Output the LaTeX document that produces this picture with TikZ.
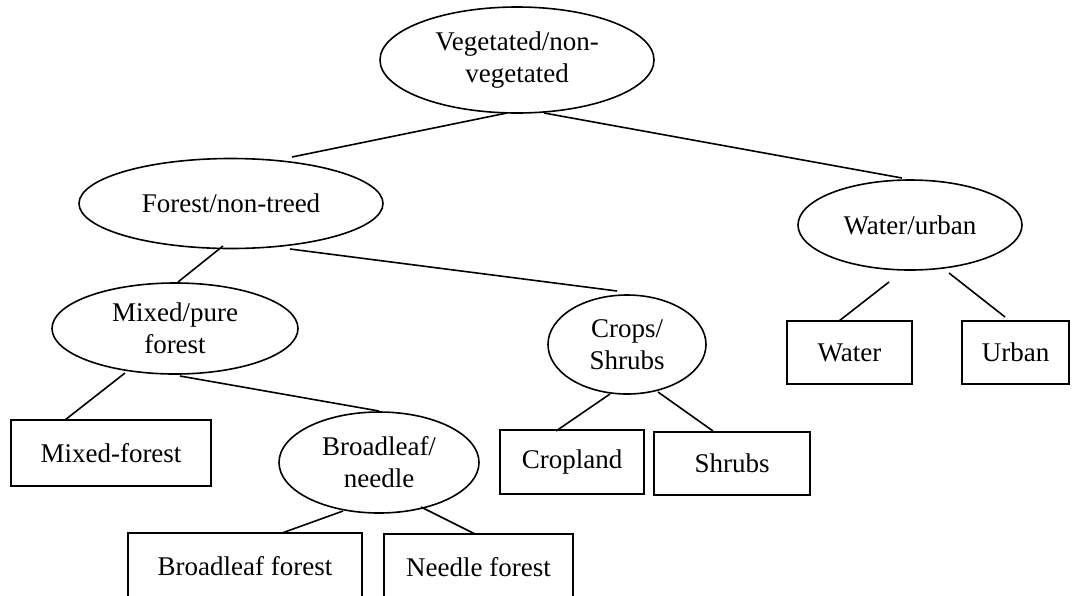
\documentclass[tikz,border=0pt]{standalone}
\usepackage{fontspec}
\setmainfont{Liberation Serif}
\usetikzlibrary{shapes.geometric,calc}
\begin{document}
\begin{tikzpicture}[x=1pt,y=-1pt,
  every node/.style={font=\fontsize{27}{32}\selectfont, align=center, inner sep=0pt, line width=1.6pt},
  oval/.style={draw, ellipse},
  leaf/.style={draw, rectangle},
  link/.style={draw, line width=1.6pt}]
\clip (0,0) rectangle (1078,595);
\useasboundingbox (0,0) rectangle (1078,595);
% ellipses
\node[oval, minimum width=274pt, minimum height=106pt] (veg) at (517,60) {Vegetated/non-\\vegetated};
\node[oval, minimum width=304pt, minimum height=90pt] (forest) at (231,203.5) {Forest/non-treed};
\node[oval, minimum width=224pt, minimum height=90pt] (water) at (910,225) {Water/urban};
\node[oval, minimum width=246pt, minimum height=91pt] (mixed) at (175,328.5) {Mixed/pure\\forest};
\node[oval, minimum width=158pt, minimum height=99pt] (crops) at (627,344.5) {Crops/\\Shrubs};
\node[oval, minimum width=200pt, minimum height=101pt] (bn) at (379,462.5) {Broadleaf/\\needle};
% boxes
\node[leaf, minimum width=200pt, minimum height=66pt] (mf) at (111,453) {Mixed-forest};
\node[leaf, minimum width=234pt, minimum height=66pt] (bf) at (245,566) {Broadleaf forest};
\node[leaf, minimum width=189pt, minimum height=66pt] (nf) at (478.5,567) {Needle forest};
\node[leaf, minimum width=144pt, minimum height=64pt] (crop) at (572,462) {Cropland};
\node[leaf, minimum width=156pt, minimum height=63pt] (shrub) at (732,463.5) {Shrubs};
\node[leaf, minimum width=125pt, minimum height=63pt] (wbox) at (849.5,352.5) {Water};
\node[leaf, minimum width=107pt, minimum height=63pt] (urban) at (1015.5,352.5) {Urban};
% connectors
\draw[link] ($(veg.center)+(-10,53)$) -- ($(forest.center)+(61,-46.5)$);
\draw[link] ($(veg.center)+(27,53)$) -- ($(water.center)+(-8,-47)$);
\draw[link] ($(forest.center)+(-8,42.5)$) -- ($(mixed.center)+(3,-46.5)$);
\draw[link] ($(forest.center)+(59,45.5)$) -- ($(crops.center)+(-10,-53.5)$);
\draw[link] ($(mixed.center)+(-50,44.5)$) -- ($(mf.center)+(-46,-33)$);
\draw[link] ($(mixed.center)+(5,47.5)$) -- ($(bn.center)+(0,-51.5)$);
\draw[link] ($(bn.center)+(-36,48.5)$) -- ($(bf.center)+(37,-33)$);
\draw[link] ($(bn.center)+(42,44.5)$) -- ($(nf.center)+(-3.5,-33)$);
\draw[link] ($(water.center)+(-21,57)$) -- ($(wbox.center)+(-10.5,-31.5)$);
\draw[link] ($(water.center)+(39,48)$) -- ($(urban.center)+(-10.5,-35.5)$);
\draw[link] ($(crops.center)+(-17,49.5)$) -- ($(crop.center)+(-16,-31)$);
\draw[link] ($(crops.center)+(31,47.5)$) -- ($(shrub.center)+(-19,-32.5)$);
\end{tikzpicture}
\end{document}
